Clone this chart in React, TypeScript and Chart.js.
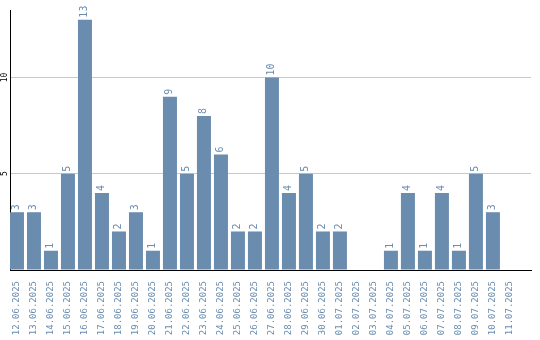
import React, { useEffect, useRef } from "react";
import { Chart, registerables } from "chart.js";

Chart.register(...registerables);

const categories = [
  "12.06.2025", "13.06.2025", "14.06.2025", "15.06.2025", "16.06.2025",
  "17.06.2025", "18.06.2025", "19.06.2025", "20.06.2025", "21.06.2025",
  "22.06.2025", "23.06.2025", "24.06.2025", "25.06.2025", "26.06.2025",
  "27.06.2025", "28.06.2025", "29.06.2025", "30.06.2025", "01.07.2025",
  "02.07.2025", "03.07.2025", "04.07.2025", "05.07.2025", "06.07.2025",
  "07.07.2025", "08.07.2025", "09.07.2025", "10.07.2025", "11.07.2025",
];

const values = [
  3, 3, 1, 5, 13, 4, 2, 3, 1, 9,
  5, 8, 6, 2, 2, 10, 4, 5, 2, 2,
  0, 0, 1, 4, 1, 4, 1, 5, 3, 0,
];

const yTickValues = [5, 10];
const yMax = 13.5;

const BAR = "#6a8caf";
const LABEL = "#6a8caf";
const MONO = "'DejaVu Sans Mono', monospace";

const valueLabels = {
  id: "valueLabels",
  afterDatasetsDraw(chart: any) {
    const ctx = chart.ctx;
    const meta = chart.getDatasetMeta(0);
    ctx.save();
    ctx.font = `10px ${MONO}`;
    ctx.fillStyle = LABEL;
    ctx.textAlign = "left";
    ctx.textBaseline = "middle";
    meta.data.forEach((el: any, i: number) => {
      const v = values[i];
      if (!v) return;
      ctx.save();
      ctx.translate(el.x - 1, el.y - 2);
      ctx.rotate(-Math.PI / 2);
      ctx.fillText(String(v), 0, 0);
      ctx.restore();
    });
    ctx.restore();
  },
};

export default function App() {
  const ref = useRef<HTMLCanvasElement>(null);

  useEffect(() => {
    if (!ref.current) return;
    const chart = new Chart(ref.current, {
      type: "bar",
      data: {
        labels: categories,
        datasets: [
          {
            data: values,
            backgroundColor: BAR,
            borderWidth: 0,
            barPercentage: 14 / 17,
            categoryPercentage: 1,
          },
        ],
      },
      options: {
        animation: false,
        responsive: false,
        devicePixelRatio: 1,
        layout: { padding: { top: 10, right: 9, left: 0, bottom: 0 } },
        plugins: {
          legend: { display: false },
          tooltip: { enabled: false },
          title: { display: false },
        },
        scales: {
          x: {
            grid: { display: false },
            border: { display: true, color: "#000000", width: 1 },
            ticks: {
              autoSkip: false,
              minRotation: 90,
              maxRotation: 90,
              padding: 3,
              color: LABEL,
              font: { family: MONO, size: 9 },
            },
            afterFit: (s: any) => {
              s.height = 70;
            },
            afterBuildTicks: (s: any) => {
              s._valueRange = 30.65;
              s._startValue = -0.41;
            },
          },
          y: {
            min: 0,
            max: yMax,
            grid: {
              drawTicks: false,
              color: (c: any) =>
                c.tick && yTickValues.includes(c.tick.value) ? "#c8c8c8" : "rgba(0,0,0,0)",
            },
            border: { display: true, color: "#000000", width: 1 },
            ticks: {
              stepSize: 5,
              minRotation: 90,
              maxRotation: 90,
              crossAlign: "center",
              padding: 0,
              color: "#000000",
              font: { family: MONO, size: 8 },
              callback: (v: any) => (yTickValues.includes(Number(v)) ? String(v) : ""),
            },
            afterFit: (s: any) => {
              s.width = 10;
            },
          },
        },
      },
      plugins: [valueLabels],
    });
    return () => chart.destroy();
  }, []);

  return (
    <div style={{ position: "absolute", left: 0, top: 0, width: 540, height: 340, background: "#fff" }}>
      <canvas ref={ref} width={540} height={340} style={{ display: "block" }} />
    </div>
  );
}
